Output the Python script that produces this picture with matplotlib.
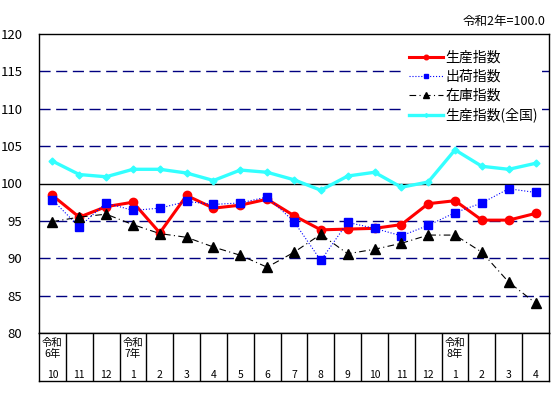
import matplotlib
matplotlib.use('Agg')
import matplotlib.pyplot as plt
import numpy as np

plt.rcParams['font.family'] = ['Noto Sans CJK JP', 'DejaVu Sans']

# 月ラベル
months = ['10', '11', '12', '1', '2', '3', '4', '5', '6', '7', '8', '9',
          '10', '11', '12', '1', '2', '3', '4']
years = {0: '令和\n6年', 3: '令和\n7年', 15: '令和\n8年'}

seisan = [98.4, 95.5, 96.9, 97.5, 93.4, 98.4, 96.7, 97.1, 97.9, 95.7,
          93.8, 93.9, 94.0, 94.5, 97.3, 97.7, 95.1, 95.1, 96.0]
shukka = [97.8, 94.2, 97.4, 96.4, 96.7, 97.6, 97.2, 97.4, 98.2, 94.9,
          89.7, 94.8, 94.0, 93.0, 94.4, 96.1, 97.4, 99.3, 98.8]
zaiko = [94.9, 95.5, 95.9, 94.5, 93.3, 92.8, 91.5, 90.4, 88.8, 90.8,
         93.2, 90.6, 91.2, 92.0, 93.1, 93.1, 90.8, 86.8, 84.0]
zenkoku = [103.0, 101.2, 100.9, 101.9, 101.9, 101.4, 100.4, 101.8, 101.5, 100.5,
           99.1, 101.0, 101.5, 99.5, 100.2, 104.5, 102.3, 101.9, 102.7]

x = np.arange(len(months))

fig = plt.figure(figsize=(5.54, 4.03), dpi=100)
ax = fig.add_axes([39/554, 1-333/403, 510/554, 299/403])

# グリッド
for v in [85, 90, 95, 105, 110, 115]:
    ax.axhline(v, color='#000080', lw=1, ls=(0, (8, 4)), zorder=1)
ax.axhline(100, color='black', lw=1, zorder=1)

l4, = ax.plot(x, zenkoku, color='#33ffff', lw=2.4, marker='D', ms=3.5, zorder=2,
              label='生産指数(全国)')
l1, = ax.plot(x, seisan, color='#ff0000', lw=2.2, marker='o', ms=6, zorder=3,
              label='生産指数')
l2, = ax.plot(x, shukka, color='#0000ff', lw=0.8, ls=':', marker='s', ms=6, zorder=4,
              label='出荷指数')
l3, = ax.plot(x, zaiko, color='black', lw=0.8, ls=(0, (6, 3, 1, 3)), marker='^', ms=7,
              zorder=5, label='在庫指数')

ax.set_xlim(-0.5, len(months) - 0.5)
ax.set_ylim(80, 120)
ax.set_yticks(range(80, 121, 5))
ax.set_xticks([])
ax.tick_params(axis='y', length=0, pad=12, labelsize=9.5)
for s in ax.spines.values():
    s.set_linewidth(1)

leg = ax.legend(handles=[l1, l2, l3, l4], loc='upper right',
                bbox_to_anchor=(1.0, 0.98), frameon=True, fontsize=10,
                handlelength=2.4, handletextpad=0.2, labelspacing=0.35,
                borderpad=0.3, markerscale=0.55)
leg.get_frame().set_edgecolor('none')
leg.get_frame().set_facecolor('white')
leg.get_frame().set_alpha(1)
leg.set_zorder(6)

# 下の表
tx = fig.add_axes([39/554, 1-381/403, 510/554, 48/403])
tx.set_xlim(-0.5, len(months) - 0.5)
tx.set_ylim(0, 1)
tx.set_xticks([])
tx.set_yticks([])
for s in tx.spines.values():
    s.set_linewidth(1)
for i in range(1, len(months)):
    tx.axvline(i - 0.5, color='black', lw=1)
for i, m in enumerate(months):
    tx.text(i, 0.12, m, ha='center', va='center', fontsize=7.5)
    if i in years:
        tx.text(i, 0.68, years[i], ha='center', va='center', fontsize=7.5,
                linespacing=1.1)

fig.text(545/554, 1-21/403, '令和2年=100.0', ha='right', va='center', fontsize=9)

fig.savefig('out.png', dpi=100)
